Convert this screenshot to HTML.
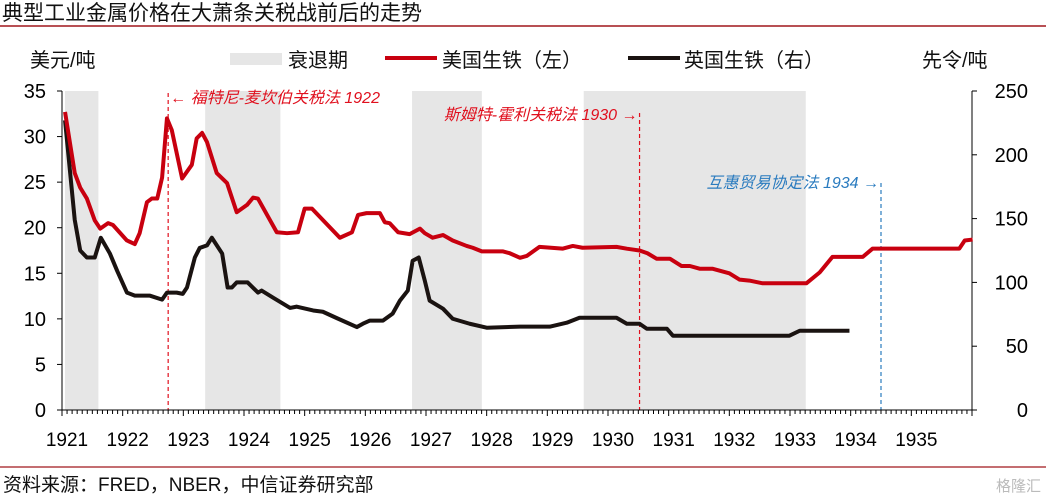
<!DOCTYPE html>
<html><head><meta charset="utf-8">
<style>
body{margin:0;background:#fff;}
svg{display:block;font-family:"Liberation Sans","Noto Sans CJK SC",sans-serif;}
</style></head>
<body>
<svg id="chart" width="1046" height="499" viewBox="0 0 1046 499" xmlns="http://www.w3.org/2000/svg">
<text x="2" y="20" font-size="21" fill="#111">典型工业金属价格在大萧条关税战前后的走势</text>
<line x1="0" y1="26" x2="1046" y2="26" stroke="#a0171c" stroke-width="1.5"/>
<text x="30" y="67" font-size="20" fill="#111">美元/吨</text>
<text x="922" y="67" font-size="20" fill="#111">先令/吨</text>
<rect x="230" y="53" width="52" height="12" fill="#e6e6e6"/>
<text x="288" y="67" font-size="20" fill="#111">衰退期</text>
<line x1="385" y1="58" x2="437" y2="58" stroke="#c8000f" stroke-width="4"/>
<text x="442" y="67" font-size="20" fill="#111">美国生铁（左）</text>
<line x1="628" y1="58" x2="680" y2="58" stroke="#1a1311" stroke-width="4"/>
<text x="684" y="67" font-size="20" fill="#111">英国生铁（右）</text>
<g id="plot"></g>
<line x1="0" y1="467" x2="1046" y2="467" stroke="#a0171c" stroke-width="1.2"/>
<text x="3" y="491" font-size="19" fill="#111">资料来源：FRED，NBER，中信证券研究部</text>
<text x="996" y="491" font-size="15" fill="#bbb">格隆汇</text>
</svg>
<script>
const yearTicks=[1921,1922,1923,1924,1925,1926,1927,1928,1929,1930,1931,1932,1933,1934,1935];
const leftTicks=[0,5,10,15,20,25,30,35];
const rightTicks=[0,50,100,150,200,250];
const recStart=[1921.05,1923.36,1926.77,1929.6];
const recEnd=[1921.6,1924.6,1927.92,1933.26];
const usT=[1921.05,1921.21,1921.30,1921.41,1921.54,1921.63,1921.76,1921.84,1922.07,1922.20,1922.28,1922.40,1922.48,1922.57,1922.65,1922.73,1922.81,1922.98,1923.14,1923.22,1923.31,1923.39,1923.55,1923.72,1923.88,1924.05,1924.15,1924.23,1924.54,1924.71,1924.89,1925.00,1925.12,1925.58,1925.78,1925.88,1926.02,1926.24,1926.32,1926.40,1926.54,1926.73,1926.90,1926.98,1927.11,1927.28,1927.44,1927.67,1927.77,1927.92,1928.27,1928.38,1928.55,1928.66,1928.87,1929.25,1929.42,1929.58,1930.14,1930.31,1930.52,1930.65,1930.80,1931.02,1931.21,1931.35,1931.51,1931.72,1932.00,1932.17,1932.33,1932.55,1933.27,1933.49,1933.70,1934.20,1934.36,1935.79,1935.88,1936.01];
const usV=[32.7,26.0,24.4,23.2,20.8,19.9,20.5,20.3,18.6,18.2,19.4,22.8,23.2,23.2,25.5,32.0,30.7,25.4,26.9,29.8,30.4,29.4,26.0,24.9,21.7,22.5,23.3,23.2,19.5,19.4,19.5,22.1,22.1,18.9,19.5,21.4,21.6,21.6,20.6,20.5,19.5,19.3,19.9,19.4,18.9,19.2,18.6,18.0,17.8,17.4,17.4,17.2,16.7,16.9,17.9,17.7,18.0,17.8,17.9,17.7,17.5,17.2,16.6,16.6,15.8,15.8,15.5,15.5,15.0,14.3,14.2,13.9,13.9,15.1,16.8,16.8,17.7,17.7,18.6,18.7];
const ukT=[1921.05,1921.21,1921.30,1921.41,1921.54,1921.64,1921.79,1921.91,1922.07,1922.20,1922.45,1922.65,1922.73,1922.89,1922.99,1923.06,1923.19,1923.27,1923.39,1923.47,1923.64,1923.73,1923.80,1923.88,1924.06,1924.23,1924.29,1924.48,1924.76,1924.87,1925.14,1925.30,1925.53,1925.86,1925.96,1926.07,1926.29,1926.45,1926.57,1926.70,1926.78,1926.88,1926.98,1927.06,1927.28,1927.44,1927.72,1928.00,1928.55,1929.04,1929.32,1929.53,1930.14,1930.31,1930.52,1930.64,1930.97,1931.07,1932.99,1933.16,1933.98];
const ukV=[227,149,125,119.5,119.5,135,122.6,109,92,89.6,89.6,86.5,92,92,91,96,119.5,127,129,135,122.6,96,96,100,100,92,93.6,88,80,81,78,77,72,65,67.6,70,70,75.5,85.7,93.6,117,119.5,101.4,85.7,79.4,71.5,67.6,64.5,65.3,65.3,68.4,72.3,72.3,67.6,67.6,63.7,63.7,58.2,58.2,62.1,62.1];
const eventYears=[1922.75,1930.52,1934.5];
const eventLabels=["← 福特尼-麦坎伯关税法 1922","斯姆特-霍利关税法 1930 →","互惠贸易协定法 1934 →"];

const NS="http://www.w3.org/2000/svg";
const X0=62,X1=972,Y0=410,Y1=91;
const xs=t=>X0+(t-1921)/15*(X1-X0);
const yl=v=>Y0-v/35*(Y0-Y1);
const yr=v=>Y0-v/250*(Y0-Y1);
const plot=document.getElementById('plot');
function mk(tag,attrs,parent){const e=document.createElementNS(NS,tag);for(const k in attrs)e.setAttribute(k,attrs[k]);(parent||plot).appendChild(e);return e;}

for(let i=0;i<recStart.length;i++){
  const r=mk('rect',{x:xs(recStart[i]),y:Y1,width:xs(recEnd[i])-xs(recStart[i]),height:Y0-Y1,fill:'#e6e6e6'});
  
  
}
const evColors=['#e0101e','#e0101e','#2a7bbf'];
const evTop=[93,113,183];
const evAnchor=['start','end','end'];
const evDx=[2,-2,-2];
const evY=[103,120,188];
for(let i=0;i<eventYears.length;i++){
  const x=xs(eventYears[i]);
  const l=mk('line',{x1:x,y1:evTop[i],x2:x,y2:Y0,stroke:evColors[i],'stroke-width':1.2,'stroke-dasharray':'4,3'});
  
  
  const t=mk('text',{x:x+evDx[i],y:evY[i],'font-size':16,'font-style':'italic',fill:evColors[i],'text-anchor':evAnchor[i]});
  t.textContent=eventLabels[i];
  
  
}
const ax=mk('line',{x1:X0,y1:Y0,x2:X1,y2:Y0,stroke:'#000','stroke-width':1});


const la=mk('line',{x1:X0,y1:Y1,x2:X0,y2:Y0,stroke:'#000','stroke-width':1});


const ra=mk('line',{x1:X1,y1:Y1,x2:X1,y2:Y0,stroke:'#000','stroke-width':1});


for(let m=0;m<=180;m++){
  const x=X0+m/180*(X1-X0);
  mk('line',{x1:x,y1:Y0,x2:x,y2:Y0+(m%12===0?6:4),stroke:'#000','stroke-width':1});
}
yearTicks.forEach(y=>{
  const t=mk('text',{x:xs(y)+5,y:446,'font-size':19,'text-anchor':'middle',fill:'#000'});
  t.textContent=y;
  
  
});
leftTicks.forEach(v=>{
  mk('line',{x1:X0-5,y1:yl(v),x2:X0,y2:yl(v),stroke:'#000'});
  const t=mk('text',{x:46,y:yl(v)+7,'font-size':20,'text-anchor':'end',fill:'#000'});
  t.textContent=v;
  
  
});
rightTicks.forEach(v=>{
  mk('line',{x1:X1,y1:yr(v),x2:X1+5,y2:yr(v),stroke:'#000'});
  const t=mk('text',{x:1028,y:yr(v)+7,'font-size':20,'text-anchor':'end',fill:'#000'});
  t.textContent=v;
  
  
});
const ukP=mk('polyline',{points:ukT.map((t,i)=>xs(t)+','+yr(ukV[i])).join(' '),fill:'none',stroke:'#1a1311','stroke-width':4,'stroke-linejoin':'round'});


const usP=mk('polyline',{points:usT.map((t,i)=>xs(t)+','+yl(usV[i])).join(' '),fill:'none',stroke:'#c8000f','stroke-width':4,'stroke-linejoin':'round'});


</script>
</body></html>
